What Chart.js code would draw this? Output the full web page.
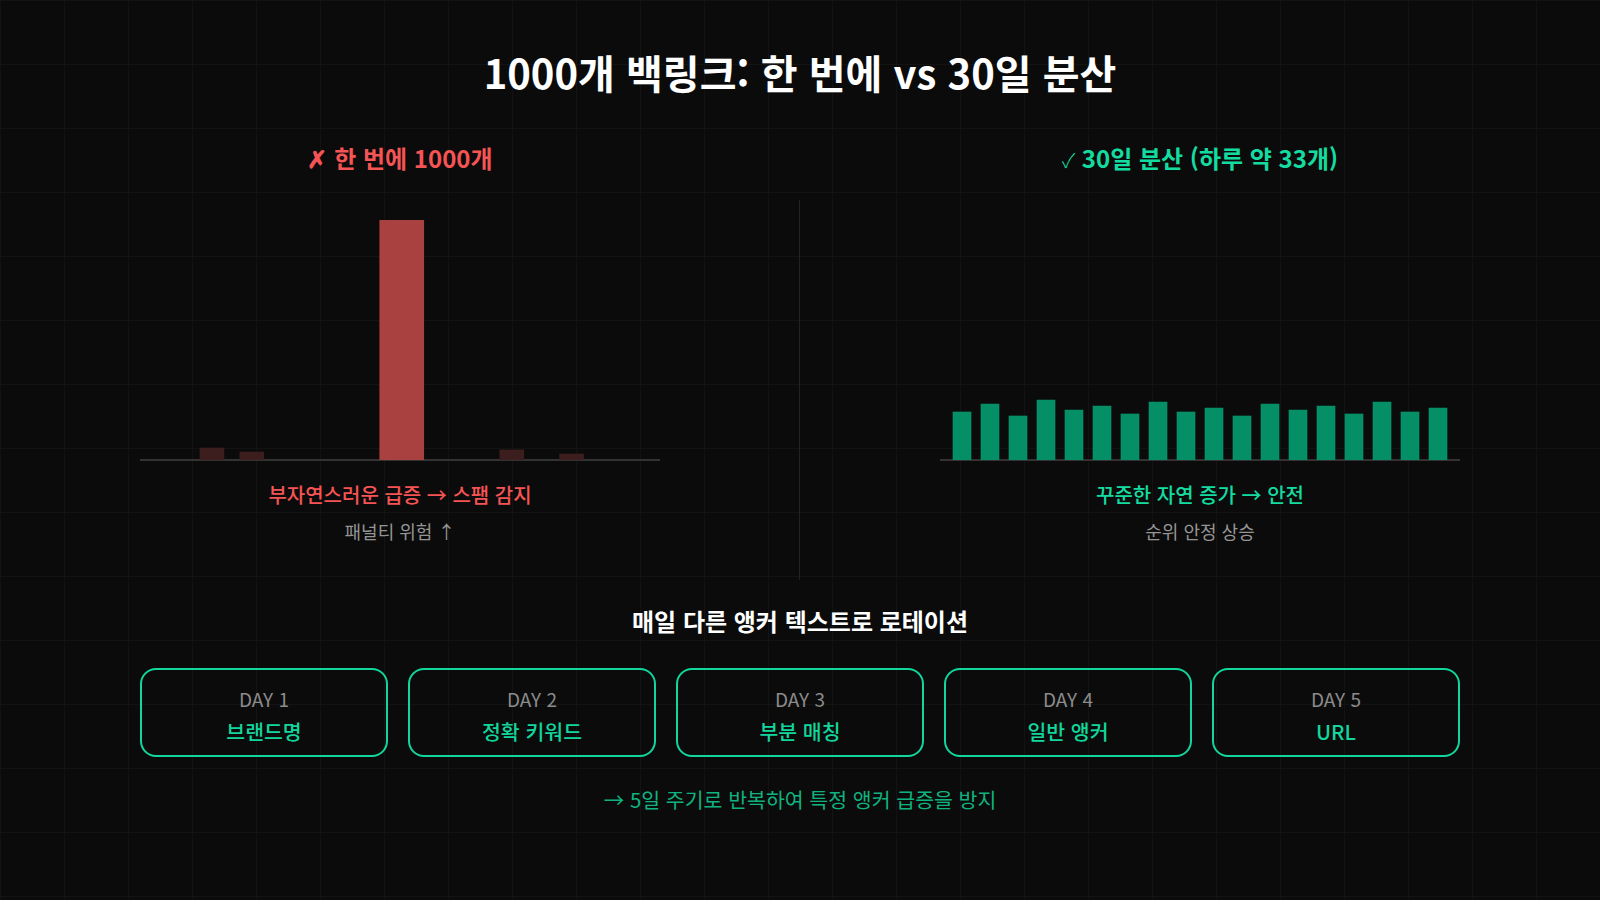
<!DOCTYPE html>
<html lang="ko">
<head>
<meta charset="utf-8">
<script src="https://cdn.jsdelivr.net/npm/chart.js@4.4.1/dist/chart.umd.min.js"></script>
<style>
  html, body { margin:0; padding:0; }
  body {
    width:1600px; height:900px; position:relative; overflow:hidden;
    background-color:#0b0b0b;
    background-image:
      linear-gradient(to right, #131313 1px, transparent 1px),
      linear-gradient(to bottom, #131313 1px, transparent 1px);
    background-size:64px 64px;
    font-family:"Noto Sans CJK KR","Noto Sans",sans-serif;
  }
  .abs { position:absolute; }
  .center { text-align:center; white-space:nowrap; }
  #title { left:0; width:1600px; top:50px; height:44px; line-height:44px; font-size:40px; font-weight:700; color:#ffffff; }
  .sub { top:144px; width:520px; height:28px; line-height:28px; font-size:24px; font-weight:700; }
  .chk { font-weight:300; font-size:20px; }
  .cap { top:483px; width:520px; height:24px; line-height:24px; font-size:20px; font-weight:500; }
  .cap2 { top:520px; width:520px; height:22px; line-height:22px; font-size:18px; color:#959595; }
  .base { top:459px; width:520px; height:2px; background:#333333; }
  #divider { left:799px; top:200px; width:1px; height:380px; background:#222222; }
  #rotTitle { left:0; width:1600px; top:606px; height:30px; line-height:30px; font-size:24px; font-weight:700; color:#ffffff; }
  .box { top:668px; width:244px; height:85px; border:2px solid #12d69c; border-radius:16px; }
  .day { position:absolute; left:0; right:0; top:17px; height:24px; line-height:24px; font-size:19px; color:#8c8c8c; text-align:center; }
  .anchor { position:absolute; left:0; right:0; top:48px; height:26px; line-height:26px; font-size:20.5px; font-weight:500; color:#12d69c; text-align:center; }
  #note { left:0; width:1600px; top:787px; height:24px; line-height:24px; font-size:20.5px; color:#10b37f; }
  canvas { position:absolute; }
</style>
</head>
<body>
<div id="title" class="abs center">1000개 백링크: 한 번에 vs 30일 분산</div>

<div class="abs center sub" style="left:140px;color:#f55454;">✗ 한 번에 1000개</div>
<div class="abs center sub" style="left:940px;color:#14dca0;"><span class="chk">✓</span> 30일 분산 (하루 약 33개)</div>

<div class="abs base" style="left:140px;"></div>
<div class="abs base" style="left:940px;"></div>
<canvas id="burst" width="520" height="240" style="left:140px;top:220px;width:520px;height:240px;"></canvas>
<canvas id="spread" width="520" height="240" style="left:940px;top:220px;width:520px;height:240px;"></canvas>

<div id="divider" class="abs"></div>

<div class="abs center cap" style="left:140px;color:#f55454;">부자연스러운 급증 → 스팸 감지</div>
<div class="abs center cap2" style="left:140px;">패널티 위험 ↑</div>
<div class="abs center cap" style="left:940px;color:#14dca0;">꾸준한 자연 증가 → 안전</div>
<div class="abs center cap2" style="left:940px;">순위 안정 상승</div>

<div id="rotTitle" class="abs center">매일 다른 앵커 텍스트로 로테이션</div>
<div id="boxes"></div>
<div id="note" class="abs center">→ 5일 주기로 반복하여 특정 앵커 급증을 방지</div>

<script>
// ---- data ----
// left: all 1000 links in one day (position on a 0–30 day axis), plus tiny background noise
const burstSpikeDay = [15.1];
const burstSpikeValue = [1000];
const burstNoiseDays = [4.15, 6.45, 21.45, 24.9];
const burstNoiseValues = [50, 33, 42, 25];
const burstMax = 1000;

// right: spread over the period (relative daily volume)
const spreadDays = ['D1','D2','D3','D4','D5','D6','D7','D8','D9','D10','D11','D12','D13','D14','D15','D16','D17','D18'];
const spreadValues = [24, 28, 22, 30, 25, 27, 23, 29, 24, 26, 22, 28, 25, 27, 23, 29, 24, 26];
const spreadMax = 120;

// anchor rotation
const rotationDays = ['DAY 1', 'DAY 2', 'DAY 3', 'DAY 4', 'DAY 5'];
const rotationAnchors = ['브랜드명', '정확 키워드', '부분 매칭', '일반 앵커', 'URL'];

// ---- boxes ----
const boxesEl = document.getElementById('boxes');
rotationDays.forEach((d, i) => {
  const b = document.createElement('div');
  b.className = 'abs box';
  b.style.left = (140 + i * 268) + 'px';
  b.innerHTML = '<div class="day">' + d + '</div><div class="anchor">' + rotationAnchors[i] + '</div>';
  boxesEl.appendChild(b);
});

// ---- charts ----
const common = {
  responsive: false,
  animation: false,
  devicePixelRatio: 1,
  plugins: { legend: { display: false }, tooltip: { enabled: false } },
};

new Chart(document.getElementById('burst'), {
  type: 'bar',
  data: {
    datasets: [
      {
        data: burstNoiseDays.map((d, i) => ({ x: d, y: burstNoiseValues[i] })),
        backgroundColor: '#3d1e1e',
        barThickness: 24,
        grouped: false,
        borderWidth: 0,
      },
      {
        data: burstSpikeDay.map((d, i) => ({ x: d, y: burstSpikeValue[i] })),
        backgroundColor: '#aa4141',
        barThickness: 44,
        grouped: false,
        borderWidth: 0,
      }
    ]
  },
  options: Object.assign({}, common, {
    layout: { padding: 0 },
    scales: {
      x: { type: 'linear', min: 0, max: 30, offset: false, display: false },
      y: { min: 0, max: burstMax, display: false }
    }
  })
});

new Chart(document.getElementById('spread'), {
  type: 'bar',
  data: {
    labels: spreadDays,
    datasets: [{
      data: spreadValues,
      backgroundColor: '#058f66',
      barThickness: 18,
      borderWidth: 0,
    }]
  },
  options: Object.assign({}, common, {
    layout: { padding: { left: 8, right: 8, top: 0, bottom: 0 } },
    scales: {
      x: { display: false },
      y: { min: 0, max: spreadMax, display: false }
    }
  })
});
</script>
</body>
</html>
